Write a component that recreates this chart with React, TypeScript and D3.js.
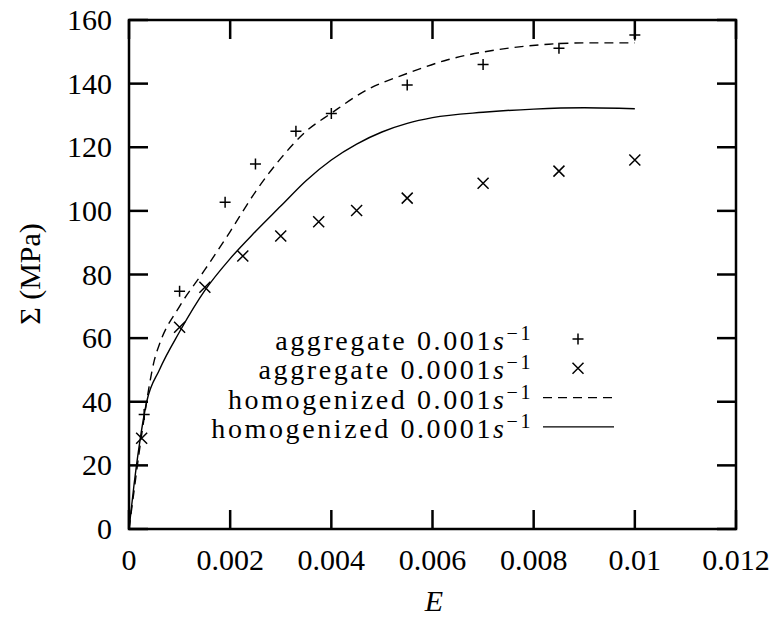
import React from "react";
import * as d3 from "d3";

const aggFastStrain = [0.0003, 0.001, 0.0019, 0.0025, 0.0033, 0.004, 0.0055, 0.007, 0.0085, 0.01];
const aggFastStress = [36, 74.7, 102.7, 114.7, 125, 130.6, 139.6, 146, 151.1, 155.3];

const aggSlowStrain = [0.00025, 0.001, 0.0015, 0.00225, 0.003, 0.00375, 0.0045, 0.0055, 0.007, 0.0085, 0.01];
const aggSlowStress = [28.5, 63.4, 76, 85.8, 92.1, 96.6, 100.1, 104, 108.7, 112.5, 116];

const homFastStrain = [0, 0.0001, 0.0002, 0.0003, 0.0004, 0.0005, 0.0006, 0.001, 0.0015, 0.002, 0.0025, 0.003, 0.0035, 0.004, 0.0047, 0.0055, 0.0063, 0.0073, 0.0083, 0.009, 0.01];
const homFastStress = [0, 12, 24, 35, 45, 53, 58, 70, 81.5, 93.5, 106, 116.5, 125, 130.7, 138, 143.2, 147.5, 150.7, 152.4, 152.8, 152.8];

const homSlowStrain = [0, 0.0001, 0.0002, 0.00035, 0.0006, 0.001, 0.0015, 0.002, 0.0025, 0.003, 0.0035, 0.004, 0.0045, 0.005, 0.0055, 0.006, 0.007, 0.008, 0.009, 0.01];
const homSlowStress = [0, 14, 26, 40, 50, 62, 75, 85, 93.5, 101.5, 109.5, 116, 121, 124.8, 127.5, 129.3, 131, 132, 132.4, 132.1];

const xTicks = [0, 0.002, 0.004, 0.006, 0.008, 0.01, 0.012];
const xTickLabels = ["0", "0.002", "0.004", "0.006", "0.008", "0.01", "0.012"];
const yTicks = [0, 20, 40, 60, 80, 100, 120, 140, 160];

const legendLabels = [
  { main: "aggregate 0.001", kind: "plus" },
  { main: "aggregate 0.0001", kind: "cross" },
  { main: "homogenized 0.001", kind: "dashed" },
  { main: "homogenized 0.0001", kind: "solid" },
];

const W = 772;
const H = 617;
const L = 129, R = 736, T = 20, B = 529;
const FONT = "'Liberation Serif', 'DejaVu Serif', 'Times New Roman', Times, serif";

export default function App() {
  const x = d3.scaleLinear().domain([0, 0.012]).range([L, R]);
  const y = d3.scaleLinear().domain([0, 160]).range([B, T]);
  const line = d3
    .line<[number, number]>()
    .x((d) => x(d[0]))
    .y((d) => y(d[1]))
    .curve(d3.curveMonotoneX);

  const fastPts = homFastStrain.map((e, i) => [e, homFastStress[i]] as [number, number]);
  const slowPts = homSlowStrain.map((e, i) => [e, homSlowStress[i]] as [number, number]);

  const tickLen = 19;
  const m = 5.5;

  const plus = (cx: number, cy: number, k: string) => (
    <path key={k} d={`M${cx - m},${cy}H${cx + m}M${cx},${cy - m}V${cy + m}`} stroke="#000" strokeWidth={1.5} fill="none" />
  );
  const cross = (cx: number, cy: number, k: string) => (
    <path key={k} d={`M${cx - m},${cy - m}L${cx + m},${cy + m}M${cx - m},${cy + m}L${cx + m},${cy - m}`} stroke="#000" strokeWidth={1.5} fill="none" />
  );

  const legX = 533;
  const legY0 = 339;
  const legDy = 29.3;
  const ts = { fontFamily: FONT };

  return (
    <svg width={W} height={H} style={{ display: "block", position: "absolute", left: 0, top: 0, fontFamily: FONT }}>
      <rect x={0} y={0} width={W} height={H} fill="#fff" />
      <path d={line(fastPts) || ""} fill="none" stroke="#000" strokeWidth={1.4} strokeDasharray="9,6" />
      <path d={line(slowPts) || ""} fill="none" stroke="#000" strokeWidth={1.4} />
      {aggFastStrain.map((e, i) => plus(x(e), y(aggFastStress[i]), "p" + i))}
      {aggSlowStrain.map((e, i) => cross(x(e), y(aggSlowStress[i]), "c" + i))}

      <rect x={L} y={T} width={R - L} height={B - T} fill="none" stroke="#000" strokeWidth={2.5} />
      {xTicks.map((t, i) => (
        <g key={"xt" + i}>
          <line x1={x(t)} x2={x(t)} y1={B} y2={B - tickLen} stroke="#000" strokeWidth={2.5} />
          <line x1={x(t)} x2={x(t)} y1={T} y2={T + tickLen} stroke="#000" strokeWidth={2.5} />
          <text x={x(t)} y={570} fontSize={30} textAnchor="middle" style={ts}>{xTickLabels[i]}</text>
        </g>
      ))}
      {yTicks.map((t, i) => (
        <g key={"yt" + i}>
          <line x1={L} x2={L + tickLen} y1={y(t)} y2={y(t)} stroke="#000" strokeWidth={2.5} />
          <line x1={R} x2={R - tickLen} y1={y(t)} y2={y(t)} stroke="#000" strokeWidth={2.5} />
          <text x={112} y={y(t) + 10} fontSize={30} textAnchor="end" style={ts}>{String(t)}</text>
        </g>
      ))}

      <text x={434} y={611} fontSize={30} fontStyle="italic" textAnchor="middle" style={ts}>E</text>
      <text transform="translate(40,274) rotate(-90)" fontSize={30} textAnchor="middle" style={ts}>Σ (MPa)</text>

      {legendLabels.map((lg, i) => {
        const cy = legY0 + i * legDy;
        return (
          <g key={"lg" + i}>
            <text x={legX} y={cy + 11} fontSize={28} textAnchor="end" letterSpacing={2.6} style={ts}>
              {lg.main}
              <tspan fontStyle="italic">s</tspan>
              <tspan dy={-10} fontSize={20}>−1</tspan>
            </text>
            {lg.kind === "plus" && plus(578, cy, "lp")}
            {lg.kind === "cross" && cross(578, cy, "lc")}
            {lg.kind === "dashed" && (
              <line x1={543} x2={614} y1={cy} y2={cy} stroke="#000" strokeWidth={1.4} strokeDasharray="9,6" />
            )}
            {lg.kind === "solid" && <line x1={543} x2={614} y1={cy} y2={cy} stroke="#000" strokeWidth={1.4} />}
          </g>
        );
      })}
    </svg>
  );
}
